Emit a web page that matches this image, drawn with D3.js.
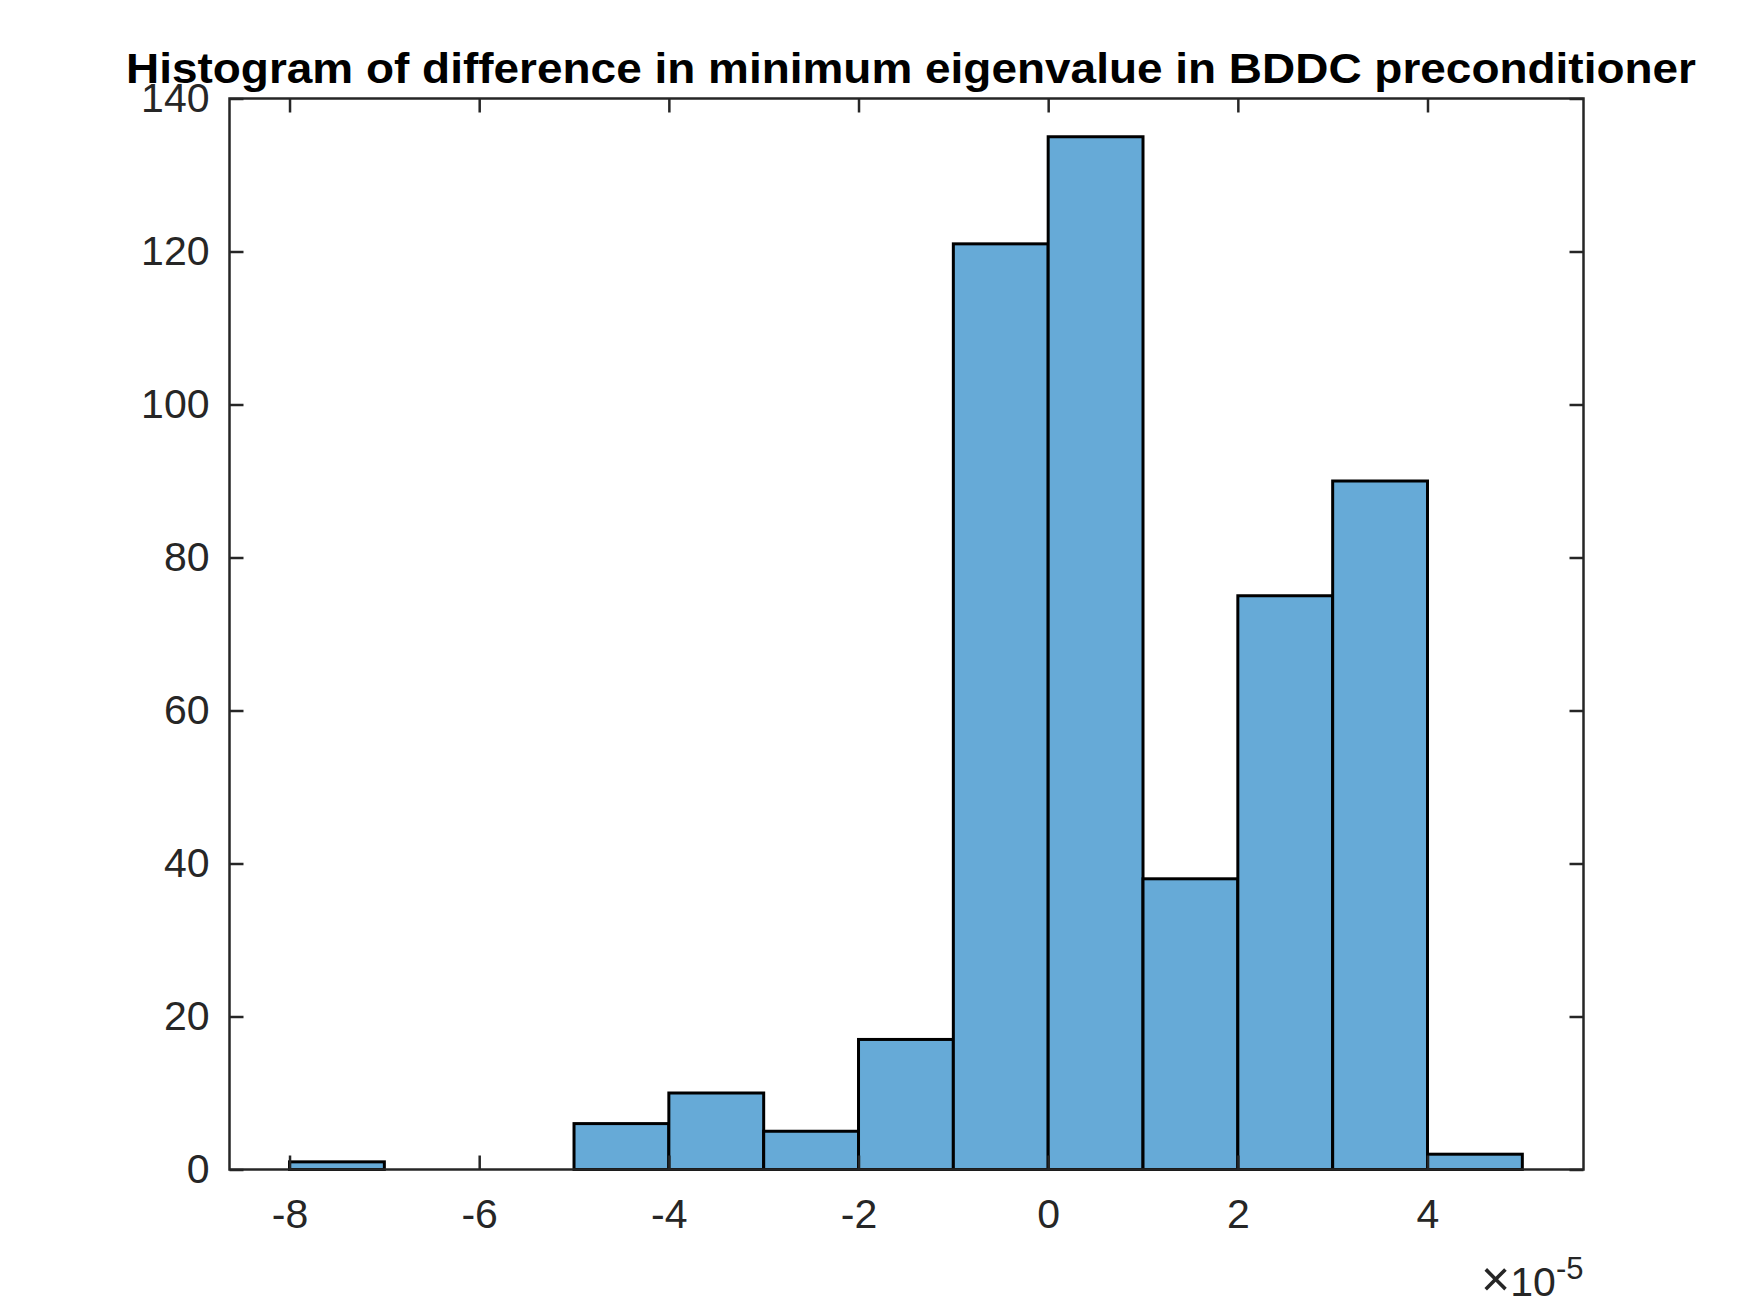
<!DOCTYPE html>
<html>
<head>
<meta charset="utf-8">
<title>Histogram of difference in minimum eigenvalue</title>
<script src="https://d3js.org/d3.v7.min.js"></script>
<style>
body { margin: 0; background: #fff; }
svg { display: block; font-family: "Liberation Sans", Arial, Helvetica, sans-serif; }
</style>
</head>
<body>
<svg class="chart"></svg>
<script>
// histogram data (x in units of 1e-5)
var binEdges = [-8, -7, -6, -5, -4, -3, -2, -1, 0, 1, 2, 3, 4, 5];
var counts = [1, 0, 0, 6, 10, 5, 17, 121, 135, 38, 75, 90, 2];
var xTicks = [-8, -6, -4, -2, 0, 2, 4];
var yTicks = [0, 20, 40, 60, 80, 100, 120, 140];
var titleText = "Histogram of difference in minimum eigenvalue in BDDC preconditioner";

var bins = counts.map(function(c, i){
	return {x0: binEdges[i], x1: binEdges[i + 1], count: c};
});

//set up chart
var W = 1750, H = 1313;
var margin = {top: 98.5, right: 166.5, bottom: 143.5, left: 229.5};
var width = W - margin.left - margin.right;
var height = H - margin.top - margin.bottom;
var axisColor = "#262626";

var svg = d3.select(".chart")
	.attr("width", W)
	.attr("height", H);

svg.append("rect").attr("width", W).attr("height", H).attr("fill", "#fff");

var chart = svg.append("g")
	.attr("transform", "translate(" + margin.left + "," + margin.top + ")");

var x = d3.scaleLinear().domain([-8.633, 5.645]).range([0, width]);
var y = d3.scaleLinear().domain([0, 140]).range([height, 0]);

//bars
chart.selectAll(".bar")
	.data(bins.filter(function(d){ return d.count > 0; }))
	.enter()
	.append("rect")
	.attr("class", "bar")
	.attr("x", function(d){ return x(d.x0); })
	.attr("y", function(d){ return y(d.count); })
	.attr("width", function(d){ return x(d.x1) - x(d.x0); })
	.attr("height", function(d){ return y(0) - y(d.count); })
	.attr("fill", "rgb(102,170,215)")
	.attr("stroke", "#000")
	.attr("stroke-width", 3);

function styleAxis(g){
	g.select(".domain").remove();
	g.selectAll(".tick line").attr("stroke", axisColor).attr("stroke-width", 2.5);
	g.selectAll(".tick text")
		.attr("fill", axisColor)
		.style("font-size", "41px")
		.style("font-family", "'Liberation Sans', Arial, sans-serif");
}

var fmt = function(d){ return String(d); };

//bottom axis
chart.append("g")
	.attr("transform", "translate(0," + height + ")")
	.call(d3.axisBottom(x).tickValues(xTicks).tickFormat(fmt).tickSizeInner(-14).tickSizeOuter(0).tickPadding(29))
	.call(styleAxis);

//top axis (ticks only)
chart.append("g")
	.call(d3.axisTop(x).tickValues(xTicks).tickFormat("").tickSizeInner(-14).tickSizeOuter(0))
	.call(styleAxis);

//left axis
chart.append("g")
	.call(d3.axisLeft(y).tickValues(yTicks).tickFormat(fmt).tickSizeInner(-14).tickSizeOuter(0).tickPadding(20))
	.call(styleAxis);

//right axis (ticks only)
chart.append("g")
	.attr("transform", "translate(" + width + ",0)")
	.call(d3.axisRight(y).tickValues(yTicks).tickFormat("").tickSizeInner(-14).tickSizeOuter(0))
	.call(styleAxis);

//box
chart.append("rect")
	.attr("width", width)
	.attr("height", height)
	.attr("fill", "none")
	.attr("stroke", axisColor)
	.attr("stroke-width", 2.5);

//exponent label
var expo = chart.append("text")
	.attr("x", width)
	.attr("y", height + 126)
	.attr("text-anchor", "end")
	.attr("fill", axisColor)
	.style("font-size", "41px");
expo.append("tspan").style("font-size", "50px").style("font-weight", "300").text("\u00d7");
expo.append("tspan").text("10");
expo.append("tspan").attr("dy", -17).style("font-size", "31px").text("-5");

//title
svg.append("text")
	.attr("x", 911)
	.attr("y", 83)
	.attr("text-anchor", "middle")
	.attr("fill", "#000")
	.attr("textLength", 1570)
	.attr("lengthAdjust", "spacingAndGlyphs")
	.style("font-size", "43px")
	.style("font-weight", "bold")
	.text(titleText);
</script>
</body>
</html>
